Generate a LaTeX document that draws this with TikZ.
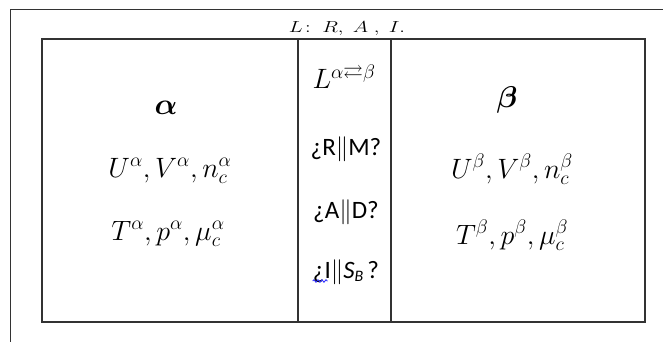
\RequirePackage{fix-cm}
\documentclass[tikz,border=0pt]{standalone}
\usepackage{amsmath,amssymb}
\usepackage{graphicx}
\usepackage{fontspec}
\newfontfamily\calibri{Carlito}
\usetikzlibrary{decorations.pathmorphing}
\tikzset{
  frame/.style={draw=black!80, line width=1.5pt},
  sidetext/.style={inner sep=0pt, anchor=base, font=\fontsize{28}{32}\selectfont},
  greek/.style={inner sep=0pt, anchor=base, font=\fontsize{30}{34}\selectfont},
  midtext/.style={inner sep=0pt, anchor=base, font=\calibri\fontsize{25}{29}\selectfont},
  toptext/.style={inner sep=0pt, anchor=base, font=\fontsize{16}{19}\selectfont},
}
\newcommand{\wid}[1]{\scalebox{1.3}[1]{#1}}
\begin{document}
\begin{tikzpicture}[x=1pt,y=1pt]
\useasboundingbox (0,0) rectangle (663,-342);
% outer frame (partly visible)
\coordinate (otr) at (663,-9.5);
\coordinate (otl) at (10.5,-9.5);
\coordinate (obl) at (10.5,-342);
\draw[frame] (otr) -- (otl) -- (obl);
% inner table
\coordinate (itl) at (42,-39);
\coordinate (ibr) at (645,-322);
\draw[frame] (itl) rectangle (ibr);
\coordinate (d1t) at (298,-39);
\coordinate (d1b) at (298,-322);
\coordinate (d2t) at (391,-39);
\coordinate (d2b) at (391,-322);
\draw[frame] (d1t) -- (d1b);
\draw[frame] (d2t) -- (d2b);
% top label
\node[toptext] (top) at (347,-33) {\wid{$L\!:\;R,\;A\;,\;I.$}};
% left column
\node[greek] (a0) at (166,-114) {$\boldsymbol{\alpha}$};
\node[sidetext] (a1) at (170,-177) {$U^{\alpha},V^{\alpha},n_c^{\alpha}$};
\node[sidetext] (a2) at (168,-240) {$T^{\alpha},p^{\alpha},\mu_c^{\alpha}$};
% right column
\node[greek] (b0) at (507,-108) {$\boldsymbol{\beta}$};
\node[sidetext] (b1) at (512,-178) {$U^{\beta},V^{\beta},n_c^{\beta}$};
\node[sidetext] (b2) at (512,-244) {$T^{\beta},p^{\beta},\mu_c^{\beta}$};
% middle column
\node[sidetext] (m0) at (344,-89) {$L^{\alpha\rightleftarrows\beta}$};
\node[midtext] (m1) at (346,-155) {¿R$\|$M?};
\node[midtext] (m2) at (346,-218) {¿A$\|$D?};
\node[midtext] (m3) at (346,-278) {¿I$\|${\itshape S\raisebox{-0.3ex}{\fontsize{16}{16}\selectfont B}}\,?};
\coordinate (sq1) at ([xshift=0pt,yshift=-3pt]m3.base west);
\coordinate (sq2) at ([xshift=15pt,yshift=-3pt]m3.base west);
\draw[blue!80, line width=0.9pt, decorate, decoration={snake, amplitude=1.2pt, segment length=4pt}] (sq1) -- (sq2);
\end{tikzpicture}
\end{document}
